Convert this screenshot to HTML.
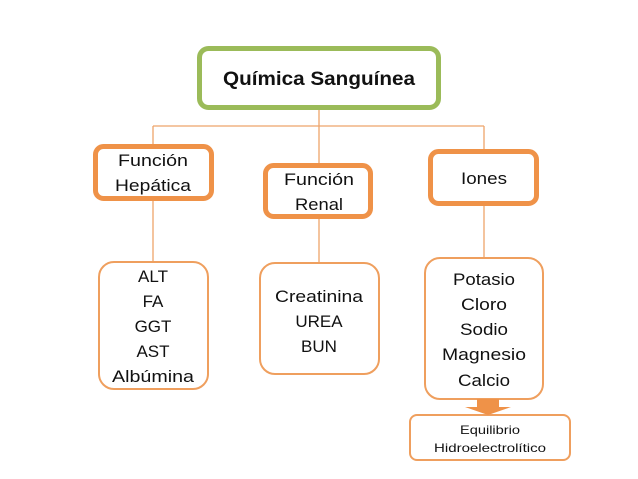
<!DOCTYPE html>
<html><head><meta charset="utf-8"><style>
html,body{margin:0;padding:0;background:#fff;}
svg{display:block;}
text{font-family:"Liberation Sans",sans-serif;fill:#111;text-anchor:middle;}
</style></head><body>
<svg width="638" height="479" viewBox="0 0 638 479" xmlns="http://www.w3.org/2000/svg">
<g stroke="#eda46a" stroke-width="1.3" fill="none">
<line x1="319" y1="110" x2="319" y2="163"/>
<line x1="153" y1="126" x2="484" y2="126"/>
<line x1="153" y1="126" x2="153" y2="144"/>
<line x1="484" y1="126" x2="484" y2="149"/>
<line x1="153" y1="201" x2="153" y2="261"/>
<line x1="319" y1="219" x2="319" y2="262"/>
<line x1="484" y1="206" x2="484" y2="257"/>
</g>
<rect x="199.5" y="48.5" width="239" height="59" rx="9" fill="#fff" stroke="#9bbb59" stroke-width="5"/>
<g fill="#fff" stroke="#ef9248" stroke-width="5">
<rect x="95.5" y="146.5" width="116" height="52" rx="8"/>
<rect x="265.5" y="165.5" width="105" height="51" rx="8"/>
<rect x="430.5" y="151.5" width="106" height="52" rx="8"/>
</g>
<g fill="#fff" stroke="#ef9f5e" stroke-width="2">
<rect x="99" y="262" width="109" height="127" rx="15"/>
<rect x="260" y="263" width="119" height="111" rx="15"/>
<rect x="425" y="258" width="118" height="141" rx="15"/>
<rect x="410" y="415" width="160" height="45" rx="7"/>
</g>
<polygon points="477,399 499,399 499,407 511,407 488,415 465,407 477,407" fill="#ef9248"/>
<text x="319" y="85" font-size="19" font-weight="bold" textLength="192" lengthAdjust="spacingAndGlyphs">Química Sanguínea</text>
<g font-size="17">
<text x="153" y="166" textLength="70" lengthAdjust="spacingAndGlyphs">Función</text>
<text x="153" y="191" textLength="76" lengthAdjust="spacingAndGlyphs">Hepática</text>
<text x="319" y="185" textLength="70" lengthAdjust="spacingAndGlyphs">Función</text>
<text x="319" y="210" textLength="48" lengthAdjust="spacingAndGlyphs">Renal</text>
<text x="484" y="184" textLength="46" lengthAdjust="spacingAndGlyphs">Iones</text>
</g>
<g font-size="17">
<text x="153" y="282">ALT</text>
<text x="153" y="307">FA</text>
<text x="153" y="332">GGT</text>
<text x="153" y="357">AST</text>
<text x="153" y="382" textLength="82" lengthAdjust="spacingAndGlyphs">Albúmina</text>
<text x="319" y="302" textLength="88" lengthAdjust="spacingAndGlyphs">Creatinina</text>
<text x="319" y="327">UREA</text>
<text x="319" y="352">BUN</text>
<text x="484" y="285" textLength="62" lengthAdjust="spacingAndGlyphs">Potasio</text>
<text x="484" y="310" textLength="46" lengthAdjust="spacingAndGlyphs">Cloro</text>
<text x="484" y="335" textLength="48" lengthAdjust="spacingAndGlyphs">Sodio</text>
<text x="484" y="360" textLength="84" lengthAdjust="spacingAndGlyphs">Magnesio</text>
<text x="484" y="386" textLength="52" lengthAdjust="spacingAndGlyphs">Calcio</text>
</g>
<g font-size="12">
<text x="490" y="434" textLength="60" lengthAdjust="spacingAndGlyphs">Equilibrio</text>
<text x="490" y="452" textLength="112" lengthAdjust="spacingAndGlyphs">Hidroelectrolítico</text>
</g>
</svg>
</body></html>
